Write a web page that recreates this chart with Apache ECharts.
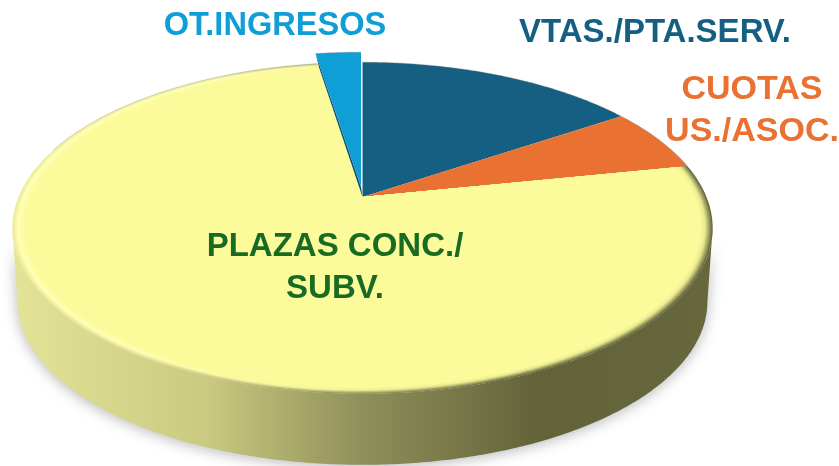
<!DOCTYPE html>
<html><head><meta charset="utf-8">
<style>html,body{margin:0;padding:0;background:#fff}#c{width:839px;height:466px}</style>
<script src="https://cdn.jsdelivr.net/npm/echarts@6/dist/echarts.min.js"></script>
</head><body><div id="c"></div>
<script>
var categories = ['VTAS./PTA.SERV.', 'CUOTAS\nUS./ASOC.', 'PLAZAS CONC./\nSUBV.', 'OT.INGRESOS'];
var values = [15.6, 6.2, 75.7, 2.5];

var chart = echarts.init(document.getElementById('c'), null, {renderer: 'canvas'});
// Projection of the round pie on to the page (a perspective view of a disc)
var view = {cx: 362.5, cy: 197, R: 344, k: 160, p: 0.187, depth: 74, baseScale: 0.985};
var COLORS = ['#156082', '#e97132', '#fbfb9c', '#0f9ed5'];
var TEXT = ['#156082', '#e97132', '#196b24', '#0f9ed5'];
var LABEL_POS = [[655, 33], [752, 111], [335, 268], [275, 26]];
var LABEL_SIZE = [33, 34, 33, 32.6];
var BURST = {3: [-1.5, -10]};
var total = values.reduce(function (a, b) { return a + b; }, 0);

function project(theta, s, ox, oy) {
  var w = 1 + view.p * Math.cos(theta);
  return [view.cx + (ox || 0) + s * view.R * Math.sin(theta) / w,
          view.cy + (oy || 0) - s * view.k * Math.cos(theta) / w];
}
function arc(a0, a1, s, ox, oy) {
  var pts = [], n = Math.max(2, Math.ceil(Math.abs(a1 - a0) / 0.01));
  for (var i = 0; i <= n; i++) pts.push(project(a0 + (a1 - a0) * i / n, s, ox, oy));
  return pts;
}
function sector(a0, a1, s, ox, oy) {
  return [[view.cx + (ox || 0), view.cy + (oy || 0)]].concat(arc(a0, a1, s, ox, oy));
}
function hex(c) { return [1, 3, 5].map(function (i) { return parseInt(c.substr(i, 2), 16); }); }
function mix(a, b, t) {
  var x = hex(a), y = hex(b);
  return '#' + x.map(function (v, i) {
    var s = Math.round(v + (y[i] - v) * t).toString(16);
    return s.length < 2 ? '0' + s : s;
  }).join('');
}
function angleOf(idx) {
  var c = 0; for (var i = 0; i < idx; i++) c += values[i];
  return [c / total * Math.PI * 2, (c + values[idx]) / total * Math.PI * 2];
}
function grad(stops) {
  return {type: 'linear', global: true, x: 12, y: 120, x2: 713, y2: 300,
    colorStops: stops.map(function (c, i) { return {offset: i / (stops.length - 1), color: c}; })};
}
function faceColor(t, face) {
  // t: 0 at the rim, 1 inside; bevel around the yellow disc
  var hi = '#ffffb8';
  var l = t < 0.45 ? mix('#eded98', hi, t / 0.45) : mix(hi, face, (t - 0.45) / 0.55);
  var ml = t < 0.45 ? mix('#e2e290', hi, t / 0.45) : mix(hi, face, (t - 0.45) / 0.55);
  var mr = t < 0.5 ? mix('#9a9a5e', '#f4f498', t / 0.5) : mix('#f4f498', face, (t - 0.5) / 0.5);
  var r = t < 0.6 ? mix('#66663c', '#eaea90', t / 0.6) : mix('#eaea90', face, (t - 0.6) / 0.4);
  return grad([l, ml, mr, r, r]);
}
var BEVEL = 12, BEVEL_W = 0.034;

function renderSlice(params, api) {
  var idx = params.dataIndex, a = angleOf(idx), off = BURST[idx] || [0, 0];
  api.value(0);
  var kids = [];
  if (off[1]) {
    // dark wall exposed by the pulled-out slice
    var p0 = [view.cx + off[0], view.cy + off[1]], p1 = project(a[0], 1, off[0], off[1]);
    var q0 = [view.cx, view.cy], q1 = project(a[0], 1, 2, 4);
    kids.push({type: 'polygon', shape: {points: [p0, p1, q1, q0]}, style: {fill: '#0b4f6c'}});
  }
  if (idx === 2) {
    for (var i = 0; i <= BEVEL; i++) {
      var t = i / BEVEL;
      kids.push({type: 'polygon', shape: {points: sector(a[0], a[1], 1 - BEVEL_W * t)},
        style: {fill: faceColor(t, COLORS[2])}});
    }
    kids.push({type: 'polyline', shape: {points: arc(Math.PI * 1.6, a[1], 1)},
      style: {fill: null, stroke: 'rgba(130,130,120,0.4)', lineWidth: 0.7}});
  } else {
    kids.push({type: 'polygon', shape: {points: sector(a[0], a[1], 1, off[0], off[1])},
      style: {fill: COLORS[idx]}});
    kids.push({type: 'polyline', shape: {points: arc(a[0], a[1], 1, off[0], off[1])},
      style: {fill: null, stroke: 'rgba(120,120,120,0.45)', lineWidth: 0.7}});
  }
  return {type: 'group', children: kids};
}
function renderWall(params, api) {
  api.value(0);
  var a0 = Math.acos(-view.p), a1 = Math.PI * 2 - a0;
  var top = arc(a0, a1, 1), bottom = arc(a1, a0, view.baseScale, 0, view.depth);
  return {type: 'polygon', shape: {points: top.concat(bottom)},
    style: {
      fill: {type: 'linear', global: true, x: 12, y: 0, x2: 713, y2: 0, colorStops: [
        {offset: 0, color: '#e4e498'}, {offset: 0.28, color: '#c9c980'},
        {offset: 0.5, color: '#8f8f5a'}, {offset: 0.75, color: '#63633a'}, {offset: 1, color: '#67673e'}]},
      shadowColor: 'rgba(0,0,0,0.28)', shadowBlur: 14, shadowOffsetX: 0, shadowOffsetY: 2
    }};
}
function renderLabel(params, api) {
  var idx = params.dataIndex, pos = LABEL_POS[idx];
  api.value(0);
  return {type: 'text', x: pos[0], y: pos[1], style: {
    text: categories[idx], fill: TEXT[idx], align: 'center', verticalAlign: 'middle',
    font: 'bold ' + LABEL_SIZE[idx] + 'px "Liberation Sans", Arial, sans-serif', lineHeight: 42}};
}
var rows = values.map(function (v, i) { return {value: [v], name: categories[i]}; });
chart.setOption({
  animation: false,
  backgroundColor: '#ffffff',
  series: [
    {type: 'custom', coordinateSystem: 'none', silent: true, z: 1, data: [{value: [total]}], renderItem: renderWall},
    {type: 'custom', coordinateSystem: 'none', silent: true, z: 2, data: rows, renderItem: renderSlice},
    {type: 'custom', coordinateSystem: 'none', silent: true, z: 3, data: rows, renderItem: renderLabel}
  ]
});
</script></body></html>
